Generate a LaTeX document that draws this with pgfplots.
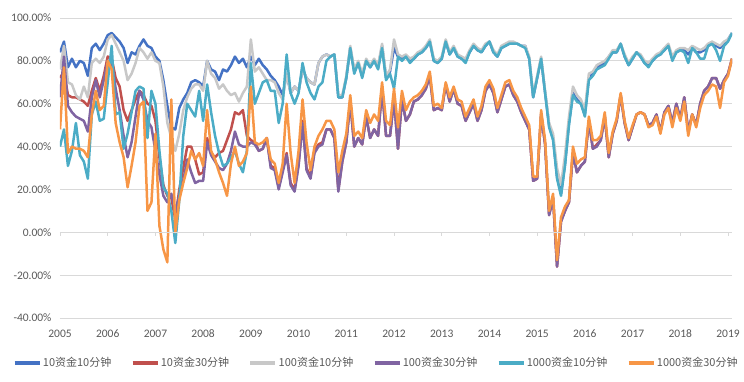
\documentclass[border=0pt]{standalone}
\usepackage{pgfplots}
\usepackage{pgfplotstable}
\pgfplotsset{compat=1.18}
\usepackage{fontspec}
\setmainfont{Carlito}
\newfontfamily\cjk{Noto Sans CJK SC}
\definecolor{cB}{HTML}{4472C4}
\definecolor{cR}{HTML}{C0504D}
\definecolor{cG}{HTML}{C8C8C8}
\definecolor{cP}{HTML}{8064A2}
\definecolor{cC}{HTML}{4BACC6}
\definecolor{cO}{HTML}{F79646}
\definecolor{gridc}{HTML}{D9D9D9}
\definecolor{labc}{HTML}{595959}
\pgfplotstableread{
m b r g p c o
0 84 72 76 63 40 48
1 89 75 87 82 48 77
2 77 64 70 59 31 37
3 81 63 69 56 38 40
4 77 63 64 54 51 39
5 80 62 62 53 36 39
6 79 61 68 52 33 38
7 73 59 63 47 25 35
8 86 66 79 63 55 55
9 88 72 81 71 61 66
10 85 66 79 63 52 57
11 88 73 82 71 53 59
12 92 82 90 80 70 80
13 93 81 92 80 87 76
14 91 72 88 67 55 51
15 89 68 84 57 56 42
16 86 57 80 45 39 35
17 79 52 71 35 46 21
18 84 57 74 42 56 31
19 83 62 79 54 66 42
20 87 66 86 66 68 59
21 90 64 84 62 67 61
22 87 60 81 52 44 10
23 86 59 84 49 66 14
24 82 52 80 38 60 46
25 80 35 79 27 38 3
26 71 22 68 17 21 -8
27 59 17 51 14 18 -14
28 49 16 44 18 10 62
29 48 6 38 10 -5 0
30 58 20 46 17 15 15
31 62 30 57 24 45 23
32 65 40 63 34 60 30
33 70 40 67 28 57 38
34 71 34 69 23 54 34
35 70 27 69 24 66 37
36 68 28 66 24 52 31
37 80 44 80 42 69 57
38 76 37 74 36 56 38
39 75 35 72 33 45 34
40 71 37 67 30 37 28
41 76 38 69 29 31 23
42 75 43 66 32 32 17
43 78 48 64 38 35 32
44 82 56 65 47 38 40
45 79 55 61 41 32 31
46 81 57 65 40 28 33
47 77 45 68 40 38 37
48 82 43 90 42 79 68
49 78 42 75 41 60 42
50 81 38 77 38 65 41
51 78 39 74 39 70 42
52 76 44 71 44 71 44
53 73 31 71 30 66 34
54 71 30 70 29 66 32
55 68 21 65 20 51 23
56 64 29 62 28 60 32
57 74 37 74 36 83 60
58 65 23 65 22 65 37
59 68 20 68 19 60 23
60 66 32 66 31 65 38
61 76 52 76 51 79 62
62 72 30 72 29 70 42
63 70 26 70 25 65 29
64 69 38 69 37 62 40
65 79 41 79 40 68 45
66 82 42 82 41 70 48
67 83 48 83 48 80 52
68 82 48 82 48 82 52
69 83 44 83 44 83 48
70 63 20 64 19 63 28
71 63 33 64 33 63 38
72 72 42 73 42 72 46
73 86 61 87 61 86 64
74 75 40 76 40 74 45
75 79 44 80 44 79 47
76 73 41 74 41 72 44
77 80 54 81 54 80 57
78 77 44 78 44 77 51
79 80 48 81 48 80 55
80 77 45 78 45 76 52
81 87 67 88 67 86 70
82 72 45 73 45 71 52
83 75 45 76 45 74 50
84 86 62 90 62 67 67
85 82 39 83 39 82 49
86 81 62 82 62 80 66
87 82 52 83 52 82 57
88 80 55 81 55 79 61
89 81 61 82 61 81 63
90 83 62 84 62 83 64
91 84 64 85 64 84 66
92 86 67 87 67 86 69
93 89 73 90 73 89 75
94 80 57 81 57 80 59
95 79 58 80 58 79 60
96 81 57 82 57 81 58
97 89 69 90 69 89 70
98 83 61 84 61 83 63
99 86 67 87 67 86 68
100 82 60 83 60 82 62
101 81 59 82 59 81 61
102 80 52 81 52 79 54
103 84 56 85 56 84 58
104 87 60 88 60 87 62
105 85 52 86 52 85 54
106 84 57 85 57 84 59
107 87 66 88 66 87 68
108 89 69 89 69 89 71
109 84 65 85 65 84 67
110 82 56 83 56 82 58
111 86 62 87 62 86 64
112 87 68 88 68 87 70
113 88 69 89 69 88 71
114 88 64 89 64 88 66
115 88 61 88 61 88 63
116 87 56 87 56 87 58
117 87 52 87 52 86 54
118 81 48 82 48 81 50
119 63 24 64 24 63 26
120 72 25 73 25 72 26
121 81 55 82 55 81 57
122 65 41 66 41 65 43
123 50 8 51 8 49 10
124 44 16 46 16 43 18
125 26 -16 30 -16 25 -13
126 18 5 22 5 17 7
127 32 10 36 10 31 12
128 51 14 54 14 50 15
129 65 37 68 37 64 40
130 62 28 64 28 61 32
131 60 31 62 31 60 34
132 55 33 57 33 54 35
133 72 52 74 52 71 54
134 74 39 75 39 73 43
135 77 41 78 40 76 43
136 78 43 79 43 77 45
137 79 54 80 54 78 56
138 82 35 82 35 81 37
139 84 46 85 46 84 47
140 84 52 85 52 84 53
141 88 64 88 64 88 65
142 82 51 83 51 82 52
143 78 43 79 43 78 44
144 81 49 82 49 81 50
145 84 55 84 55 84 55
146 82 56 83 56 82 56
147 79 55 80 55 79 55
148 78 50 79 50 77 49
149 80 51 81 51 80 50
150 82 55 83 55 82 54
151 83 47 84 47 83 46
152 85 56 86 56 85 55
153 87 59 88 59 87 58
154 81 51 82 51 80 49
155 84 60 85 60 84 58
156 85 53 86 53 85 52
157 85 63 86 63 84 61
158 83 47 85 47 79 45
159 86 55 87 55 86 55
160 84 50 86 50 84 49
161 84 60 85 60 81 58
162 85 66 86 66 81 64
163 87 68 88 68 87 66
164 88 72 89 72 88 69
165 87 72 88 72 85 68
166 86 67 87 67 80 58
167 88 71 89 71 87 70
168 90 74 90 74 89 73
169 93 81 93 81 93 81
}\data
\begin{document}
\begin{tikzpicture}
\begin{axis}[
  width=672pt, height=300pt, scale only axis,
  xmin=0, xmax=169, ymin=-40, ymax=100,
  xtick={0,12,24,36,48,60,72,84,96,108,120,132,144,156,168},
  xticklabels={2005,2006,2007,2008,2009,2010,2011,2012,2013,2014,2015,2016,2017,2018,2019},
  ytick={-40,-20,0,20,40,60,80,100},
  yticklabels={-40.00\%,-20.00\%,0.00\%,20.00\%,40.00\%,60.00\%,80.00\%,100.00\%},
  ymajorgrids, grid style={draw=gridc, line width=0.8pt},
  axis line style={draw=none},
  major tick length=0pt,
  tick label style={font=\fontsize{11.5}{13}\selectfont, text=labc},
  yticklabel style={xshift=-5pt},
  xticklabel style={yshift=-8pt},
  legend columns=6,
  legend style={at={(axis description cs:0.4702,-0.15)}, anchor=center, draw=none, fill=none,
    font=\cjk\fontsize{11}{13}\selectfont, text=labc,
    /tikz/every even column/.append style={column sep=18pt},
    nodes={inner xsep=1.5pt, inner ysep=1pt}},
  legend image code/.code={\draw[#1, line width=3.5pt] (0pt,0pt) -- (25pt,0pt);},
  every axis plot/.append style={line width=2.5pt, line join=round, no markers},
]
\addplot[cB] table[x=m, y=b] {\data};
\addlegendentry{10资金10分钟}
\addplot[cR] table[x=m, y=r] {\data};
\addlegendentry{10资金30分钟}
\addplot[cG] table[x=m, y=g] {\data};
\addlegendentry{100资金10分钟}
\addplot[cP] table[x=m, y=p] {\data};
\addlegendentry{100资金30分钟}
\addplot[cC] table[x=m, y=c] {\data};
\addlegendentry{1000资金10分钟}
\addplot[cO] table[x=m, y=o] {\data};
\addlegendentry{1000资金30分钟}
\draw[gridc, line width=0.8pt] (axis cs:0,0) -- (axis cs:169,0);
\pgfplotsinvokeforeach{0,12,24,36,48,60,72,84,96,108,120,132,144,156,168}{
  \draw[gridc, line width=0.8pt] (axis cs:#1,0) -- ++(0pt,-4pt);
}
\end{axis}
\path[use as bounding box] (current axis.south west) ++(-60pt,-63pt) rectangle ++(744pt,381pt);
\end{tikzpicture}
\end{document}
